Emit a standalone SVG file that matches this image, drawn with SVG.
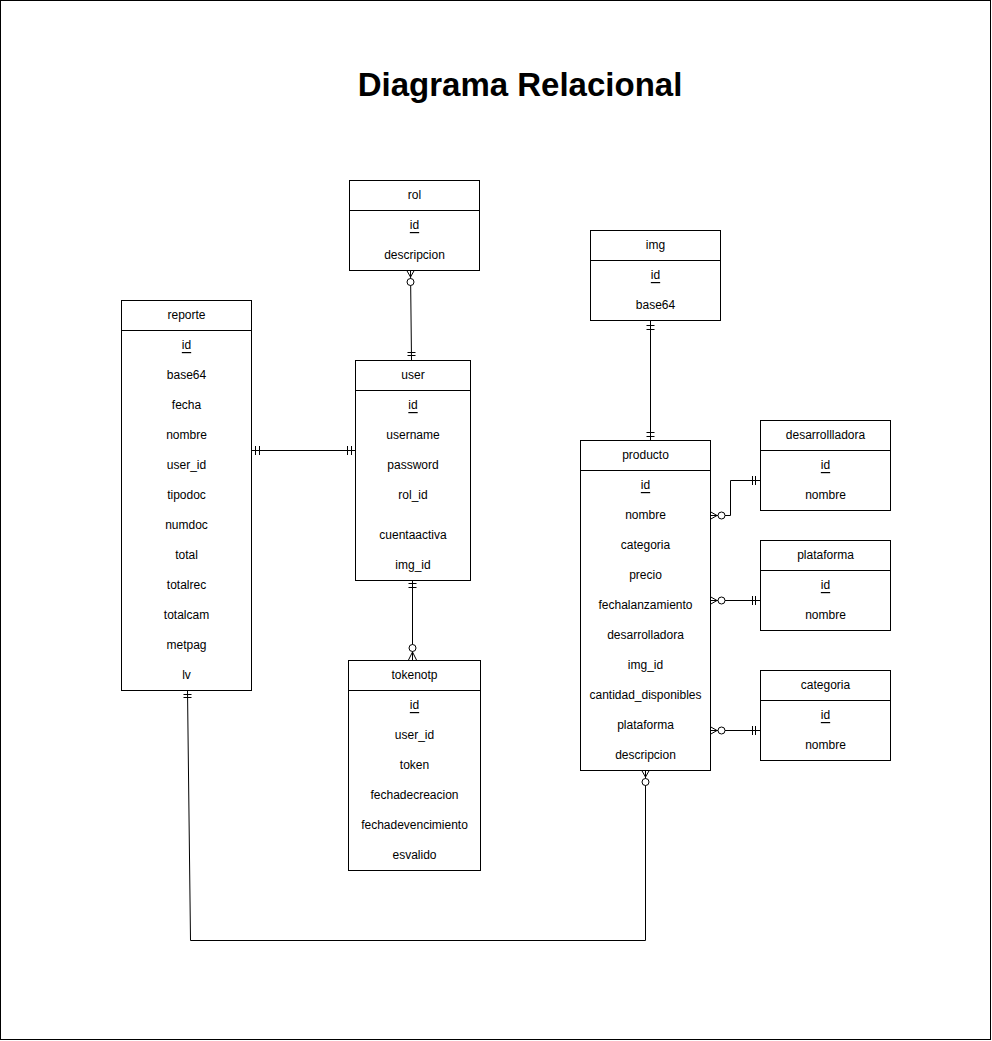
<svg xmlns="http://www.w3.org/2000/svg" width="992" height="1041" viewBox="0 0 992 1041">
<style>
.box{fill:#fff;stroke:#000;stroke-width:1}
.sep{stroke:#000;stroke-width:1}
.t{font-family:"Liberation Sans",Arial,Helvetica,sans-serif;font-size:12px;fill:#000;text-anchor:middle;dominant-baseline:central}
.pk{text-decoration:underline}
.title{font-family:"Liberation Sans",Arial,Helvetica,sans-serif;font-size:33px;font-weight:bold;fill:#000;text-anchor:middle}
.c{fill:none;stroke:#000;stroke-width:1}
.o{fill:#fff;stroke:#000;stroke-width:1}
</style>
<rect x="0.5" y="0.5" width="990" height="1039" fill="#fff" stroke="#000"/>
<text class="title" x="520" y="96">Diagrama Relacional</text>

<g id="connectors">
  <!-- rol - user -->
  <path class="c" d="M410.5 270 L411.5 360"/>
  <path class="c" d="M406.5 270 L410.5 277 L414.5 270"/>
  <circle class="o" cx="410.5" cy="282" r="3.5"/>
  <path class="c" d="M407.5 352.5 H415.5 M407.5 355.5 H415.5"/>
  <!-- reporte - user -->
  <path class="c" d="M251 450.5 H355"/>
  <path class="c" d="M255.5 446 V455 M259.5 446 V455"/>
  <path class="c" d="M347.5 446 V455 M351.5 446 V455"/>
  <!-- user - tokenotp -->
  <path class="c" d="M412.5 580 V660"/>
  <path class="c" d="M408.5 583.5 H416.5 M408.5 587.5 H416.5"/>
  <circle class="o" cx="412.5" cy="648" r="3.5"/>
  <path class="c" d="M408.5 660 L412.5 652 L416.5 660"/>
  <!-- img - producto -->
  <path class="c" d="M650.5 320 V440"/>
  <path class="c" d="M646.5 325.5 H654.5 M646.5 329.5 H654.5"/>
  <path class="c" d="M646.5 432.5 H654.5 M646.5 436.5 H654.5"/>
  <!-- producto - desarrollladora -->
  <path class="c" d="M710 515.5 H730.5 V480.5 H760"/>
  <path class="c" d="M710 511.5 L717 515.5 L710 519.5"/>
  <circle class="o" cx="721.5" cy="515.5" r="3.5"/>
  <path class="c" d="M752.5 476 V485 M755.5 476 V485"/>
  <!-- producto - plataforma -->
  <path class="c" d="M710 600.5 H760"/>
  <path class="c" d="M710 596.5 L717 600.5 L710 604.5"/>
  <circle class="o" cx="721.5" cy="600.5" r="3.5"/>
  <path class="c" d="M752.5 596 V605 M755.5 596 V605"/>
  <!-- producto - categoria -->
  <path class="c" d="M710 730.5 H760"/>
  <path class="c" d="M710 726.5 L717 730.5 L710 734.5"/>
  <circle class="o" cx="721.5" cy="730.5" r="3.5"/>
  <path class="c" d="M752.5 726 V735 M755.5 726 V735"/>
  <!-- reporte - producto -->
  <path class="c" d="M187.5 690 L190.5 940.5 H645.5 V770"/>
  <path class="c" d="M183.5 694.5 H191.5 M183.5 697.5 H191.5"/>
  <path class="c" d="M641.5 770 L645.5 777 L649.5 770"/>
  <circle class="o" cx="645.5" cy="782" r="3.5"/>
</g>

<g id="rol">
  <rect class="box" x="349.5" y="180.5" width="130" height="90"/>
  <line class="sep" x1="349.5" y1="210.5" x2="479.5" y2="210.5"/>
  <text class="t" x="414.5" y="195">rol</text>
  <text class="t pk" x="414.5" y="225">id</text>
  <text class="t" x="414.5" y="255">descripcion</text>
</g>

<g id="img">
  <rect class="box" x="590.5" y="230.5" width="130" height="90"/>
  <line class="sep" x1="590.5" y1="260.5" x2="720.5" y2="260.5"/>
  <text class="t" x="655.5" y="245">img</text>
  <text class="t pk" x="655.5" y="275">id</text>
  <text class="t" x="655.5" y="305">base64</text>
</g>

<g id="reporte">
  <rect class="box" x="121.5" y="300.5" width="130" height="390"/>
  <line class="sep" x1="121.5" y1="330.5" x2="251.5" y2="330.5"/>
  <text class="t" x="186.5" y="315">reporte</text>
  <text class="t pk" x="186.5" y="345">id</text>
  <text class="t" x="186.5" y="375">base64</text>
  <text class="t" x="186.5" y="405">fecha</text>
  <text class="t" x="186.5" y="435">nombre</text>
  <text class="t" x="186.5" y="465">user_id</text>
  <text class="t" x="186.5" y="495">tipodoc</text>
  <text class="t" x="186.5" y="525">numdoc</text>
  <text class="t" x="186.5" y="555">total</text>
  <text class="t" x="186.5" y="585">totalrec</text>
  <text class="t" x="186.5" y="615">totalcam</text>
  <text class="t" x="186.5" y="645">metpag</text>
  <text class="t" x="186.5" y="675">lv</text>
</g>

<g id="user">
  <rect class="box" x="355.5" y="360.5" width="115" height="220"/>
  <line class="sep" x1="355.5" y1="390.5" x2="470.5" y2="390.5"/>
  <text class="t" x="413" y="375">user</text>
  <text class="t pk" x="413" y="405">id</text>
  <text class="t" x="413" y="435">username</text>
  <text class="t" x="413" y="465">password</text>
  <text class="t" x="413" y="495">rol_id</text>
  <text class="t" x="413" y="535">cuentaactiva</text>
  <text class="t" x="413" y="565">img_id</text>
</g>

<g id="tokenotp">
  <rect class="box" x="348.5" y="660.5" width="132" height="210"/>
  <line class="sep" x1="348.5" y1="690.5" x2="480.5" y2="690.5"/>
  <text class="t" x="414.5" y="675">tokenotp</text>
  <text class="t pk" x="414.5" y="705">id</text>
  <text class="t" x="414.5" y="735">user_id</text>
  <text class="t" x="414.5" y="765">token</text>
  <text class="t" x="414.5" y="795">fechadecreacion</text>
  <text class="t" x="414.5" y="825">fechadevencimiento</text>
  <text class="t" x="414.5" y="855">esvalido</text>
</g>

<g id="producto">
  <rect class="box" x="580.5" y="440.5" width="130" height="330"/>
  <line class="sep" x1="580.5" y1="470.5" x2="710.5" y2="470.5"/>
  <text class="t" x="645.5" y="455">producto</text>
  <text class="t pk" x="645.5" y="485">id</text>
  <text class="t" x="645.5" y="515">nombre</text>
  <text class="t" x="645.5" y="545">categoria</text>
  <text class="t" x="645.5" y="575">precio</text>
  <text class="t" x="645.5" y="605">fechalanzamiento</text>
  <text class="t" x="645.5" y="635">desarrolladora</text>
  <text class="t" x="645.5" y="665">img_id</text>
  <text class="t" x="645.5" y="695">cantidad_disponibles</text>
  <text class="t" x="645.5" y="725">plataforma</text>
  <text class="t" x="645.5" y="755">descripcion</text>
</g>

<g id="desarrollladora">
  <rect class="box" x="760.5" y="420.5" width="130" height="90"/>
  <line class="sep" x1="760.5" y1="450.5" x2="890.5" y2="450.5"/>
  <text class="t" x="825.5" y="435">desarrollladora</text>
  <text class="t pk" x="825.5" y="465">id</text>
  <text class="t" x="825.5" y="495">nombre</text>
</g>

<g id="plataforma">
  <rect class="box" x="760.5" y="540.5" width="130" height="90"/>
  <line class="sep" x1="760.5" y1="570.5" x2="890.5" y2="570.5"/>
  <text class="t" x="825.5" y="555">plataforma</text>
  <text class="t pk" x="825.5" y="585">id</text>
  <text class="t" x="825.5" y="615">nombre</text>
</g>

<g id="categoria">
  <rect class="box" x="760.5" y="670.5" width="130" height="90"/>
  <line class="sep" x1="760.5" y1="700.5" x2="890.5" y2="700.5"/>
  <text class="t" x="825.5" y="685">categoria</text>
  <text class="t pk" x="825.5" y="715">id</text>
  <text class="t" x="825.5" y="745">nombre</text>
</g>
</svg>
